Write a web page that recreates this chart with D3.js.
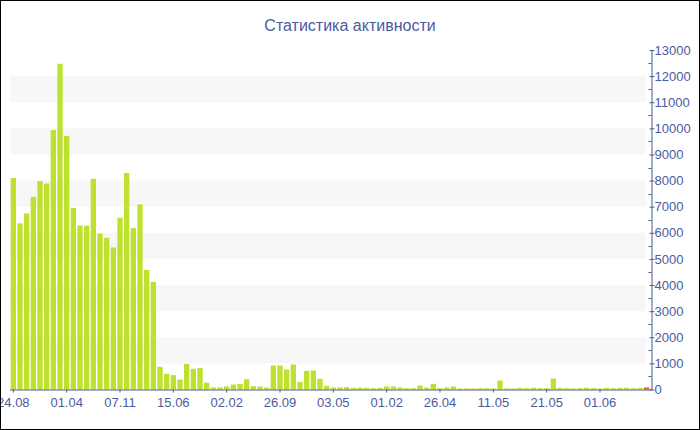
<!DOCTYPE html>
<html><head><meta charset="utf-8">
<script src="https://cdn.jsdelivr.net/npm/d3@7"></script>
<style>body{margin:0;background:#fff}svg{display:block}</style>
</head><body>
<svg id="c" width="700" height="430"></svg>
<script>
const title = "Статистика активности";
const values = [8100,6360,6740,7380,7980,7890,9940,12470,9710,6950,6280,6270,8070,5970,5810,5440,6580,8290,6180,7090,4580,4120,870,600,550,380,980,790,820,260,80,80,115,190,217,395,128,115,76,918,918,765,956,294,714,727,408,140,76,76,89,64,64,64,51,64,115,115,76,51,51,153,70,217,51,76,115,38,38,38,51,51,38,344,38,38,64,51,64,51,51,420,64,51,38,51,64,51,38,64,51,64,64,51,64,76];
const tickLabels = ["24.08","01.04","07.11","15.06","02.02","26.09","03.05","01.02","26.04","11.05","21.05","01.06"];
const tickEvery = 8;
const yMax = 13000;
const yTicks = d3.range(0, 13001, 1000);
const yMinor = d3.range(500, 13000, 1000);

const svg = d3.select("#c");
const W = 700, H = 430;
const x0 = 10, x1 = 650, yTop = 50, yBase = 389.5;
const axisColor = "#4a5b9e";
const font = "'Liberation Sans', Arial, sans-serif";

const idx = values.map((d,i)=>i);
const x = d3.scaleBand().domain(idx).range([x0, x1]).paddingInner(0.2).paddingOuter(0.1);
const y = d3.scaleLinear().domain([0, yMax]).range([yBase, yTop]);

// bands
const bandStarts = d3.range(1000, 13000, 2000);
svg.append("g").selectAll("rect").data(bandStarts).join("rect")
  .attr("x", x0).attr("width", 636)
  .attr("y", d => y(d+1000)).attr("height", d => y(d) - y(d+1000))
  .attr("fill", "#f7f7f7");

// title
svg.append("text").attr("x", 350).attr("y", 31).attr("text-anchor","middle")
  .attr("font-family", font).attr("font-size", 16).attr("fill", axisColor).text(title);

// bars
svg.append("g").selectAll("rect").data(values).join("rect")
  .attr("x", (d,i) => x(i)).attr("width", x.bandwidth())
  .attr("y", d => y(d)).attr("height", d => yBase - y(d))
  .attr("fill", (d,i) => i === values.length-1 ? "#e4562c" : "#bde12e");

// x axis
const tickIdx = tickLabels.map((t,k) => k*tickEvery);
const xAxis = d3.axisBottom(x).tickValues(tickIdx).tickFormat((d,k) => tickLabels[tickIdx.indexOf(d)]).tickSize(3).tickSizeOuter(0);
const gx = svg.append("g").attr("transform", `translate(0,${yBase})`).call(xAxis);
gx.select(".domain").attr("stroke", axisColor).attr("d", `M${x0},0.5H${x1+2}`);
gx.selectAll(".tick line").attr("stroke", axisColor);
gx.selectAll(".tick text").attr("fill", axisColor).attr("font-family", font).attr("font-size", 13).attr("dy", "0.9em");

// y axis right
const axX = 651.5;
const yAxis = d3.axisRight(y).tickValues(yTicks).tickFormat(d3.format("d")).tickSize(3).tickSizeOuter(0);
const gy = svg.append("g").attr("transform", `translate(${axX},0)`).call(yAxis);
gy.select(".domain").attr("stroke", axisColor);
gy.selectAll(".tick line").attr("stroke", axisColor).attr("x1", -2).attr("x2", 3);
gy.selectAll(".tick text").attr("fill", axisColor).attr("font-family", font).attr("font-size", 13).attr("x", 3);
svg.append("g").attr("transform", `translate(${axX},0)`).selectAll("line").data(yMinor).join("line")
  .attr("x1", -3).attr("x2", 0).attr("y1", d => Math.round(y(d))+0.5).attr("y2", d => Math.round(y(d))+0.5)
  .attr("stroke", axisColor);

// border
svg.append("rect").attr("x",0.5).attr("y",0.5).attr("width",W-1).attr("height",H-1)
  .attr("fill","none").attr("stroke","#000");
</script>
</body></html>
